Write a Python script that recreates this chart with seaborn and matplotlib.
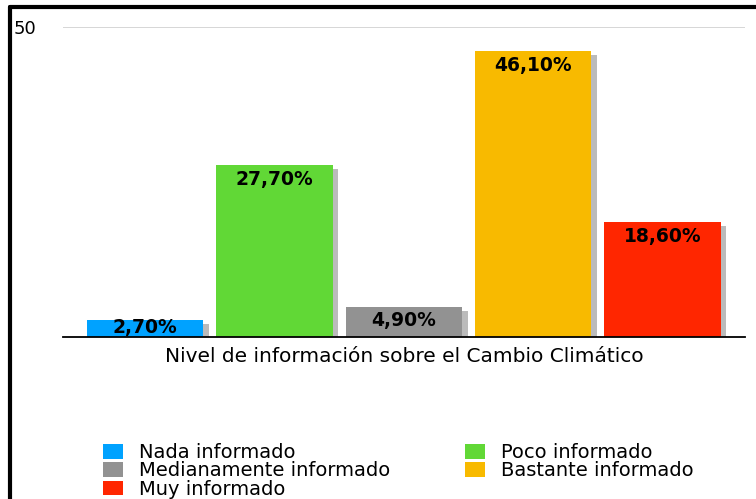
import matplotlib
matplotlib.use("Agg")
import matplotlib.pyplot as plt
import matplotlib.patheffects as pe
from matplotlib.lines import Line2D
from matplotlib.patches import Patch
import seaborn as sns

# data
categories = ["Nada informado", "Poco informado", "Medianamente informado",
              "Bastante informado", "Muy informado"]
values = [2.7, 27.7, 4.9, 46.1, 18.6]
colors = ["#00A2FF", "#61D836", "#929292", "#F8BA00", "#FF2600"]
xlabel = "Nivel de información sobre el Cambio Climático"

sns.set_style("white")
plt.rcParams["font.family"] = ["DejaVu Sans"]
plt.rcParams["text.color"] = "black"
plt.rcParams["axes.labelcolor"] = "black"
plt.rcParams["ytick.color"] = "black"

fig = plt.figure(figsize=(7.56, 4.99), dpi=100)
ax = fig.add_axes([63 / 756, 1 - 337 / 499, (745 - 63) / 756, (337 - 27) / 499])

sns.barplot(x=categories, y=values, hue=categories, palette=colors,
            width=0.9, legend=False, ax=ax, saturation=1, linewidth=0)

shadow = [pe.SimplePatchShadow(offset=(4, -3), shadow_rgbFace="#555555", alpha=0.4),
          pe.Normal()]
for bar in ax.patches:
    bar.set_edgecolor("none")
    bar.set_path_effects(shadow)

# value labels just inside the top of each bar (short bars: label sits on top edge)
for i, v in enumerate(values):
    dy = 1.5 if v < 4 else -3.5
    ax.annotate(f"{v:.2f}".replace(".", ",") + "%", (i, v), xytext=(0, dy),
                textcoords="offset points", ha="center", va="top",
                fontsize=13.5, fontweight="bold", color="black")

ax.set_xlim(-0.635, 4.637)
ax.set_ylim(0, 50)
ax.set_xticks([])
ax.set_yticks([50])
ax.set_yticklabels(["50"])
ax.tick_params(axis="y", length=0, pad=19, labelsize=13, labelcolor="black")
ax.axhline(50, color="#d0d0d0", lw=1.2, zorder=0)
for s in ["top", "right", "left"]:
    ax.spines[s].set_visible(False)
ax.spines["bottom"].set_color("black")
ax.spines["bottom"].set_linewidth(1.3)
ax.set_xlabel(xlabel, fontsize=14.5, labelpad=7, color="black")
ax.set_ylabel("")

# frame
fig.add_artist(Line2D([10 / 756, 10 / 756], [0, 1 - 6.5 / 499], color="black", lw=3,
                      transform=fig.transFigure))
fig.add_artist(Line2D([10 / 756, 1], [1 - 6.5 / 499, 1 - 6.5 / 499], color="black", lw=3,
                      transform=fig.transFigure))

# legend in two columns, filled row by row
handles = [Patch(facecolor=c, edgecolor="none") for c in colors]
col1 = [0, 2, 4]
col2 = [1, 3]
common = dict(frameon=False, fontsize=14, handlelength=1.05, handleheight=0.78,
              handletextpad=0.78, labelspacing=-0.03, borderpad=0, borderaxespad=0,
              loc="upper left", labelcolor="black")
fig.legend([handles[i] for i in col1], [categories[i] for i in col1],
           bbox_to_anchor=(103 / 756, 1 - 443 / 499), **common)
fig.legend([handles[i] for i in col2], [categories[i] for i in col2],
           bbox_to_anchor=(465 / 756, 1 - 443 / 499), **common)

fig.savefig("out.png", dpi=100)
